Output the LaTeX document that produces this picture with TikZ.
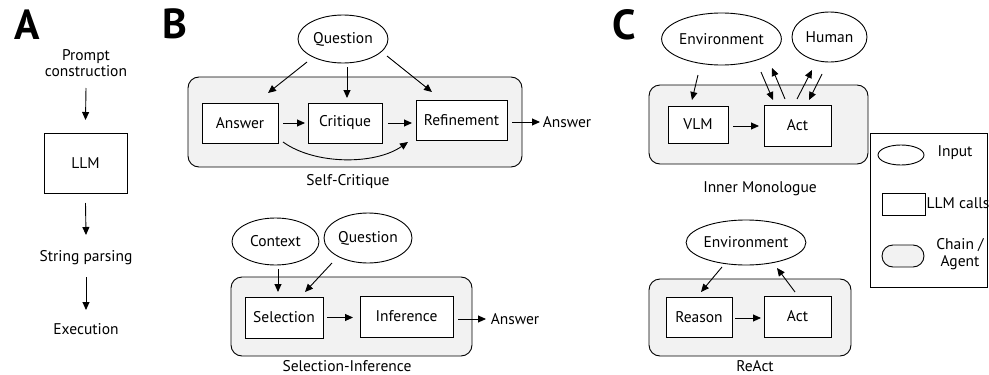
\documentclass[tikz,border=0pt]{standalone}
\usepackage{fontspec}
\setmainfont{PT Sans}
\usetikzlibrary{arrows.meta,shapes.geometric,calc}
\definecolor{chainfill}{HTML}{F2F2F2}
\begin{document}
\begin{tikzpicture}[x=1pt,y=-1pt,
  every node/.style={font=\fontsize{15.5}{16.5}\selectfont},
  lbl/.style={inner sep=0pt,align=center},
  big/.style={inner sep=0pt,font=\fontsize{42}{42}\selectfont\bfseries},
  llmbox/.style={draw,line width=0.9pt,fill=white,rectangle,inner sep=0pt},
  inp/.style={draw,line width=0.9pt,fill=white,ellipse,inner sep=0pt},
  chain/.style={draw,line width=0.9pt,fill=chainfill,rectangle,rounded corners=11pt,inner sep=0pt},
  arr/.style={line width=0.9pt,-{Triangle[length=8pt,width=7pt]}}]
\useasboundingbox (0,0) rectangle (989,375);

% ---------- A ----------
\node[big] (A) at (27.5,25) {A};
\node[lbl] (pc) at (86,63) {Prompt\\construction};
\node[llmbox,minimum width=83pt,minimum height=60pt] (llm) at (85.5,163) {LLM};
\node[lbl] (sp) at (86,258) {String parsing};
\node[lbl] (ex) at (86,329) {Execution};
\draw[arr] ($(pc)+(0,25)$) -- ($(llm)+(0,-43)$);
\draw[arr] ($(llm)+(0,40)$) -- ($(sp)+(0,-23)$);
\draw[arr] ($(sp)+(0,19)$) -- ($(ex)+(0,-19)$);

% ---------- B : Self-Critique ----------
\node[big] (B) at (175,24) {B};
\node[chain,minimum width=334pt,minimum height=90pt] (rr1) at (355,122) {};
\node[inp,minimum width=90pt,minimum height=48pt] (q1) at (343,39) {Question};
\node[llmbox,minimum width=76pt,minimum height=40pt] (ans) at (240,123) {Answer};
\node[llmbox,minimum width=74pt,minimum height=40pt] (crit) at (345,123) {Critique};
\node[llmbox,minimum width=91pt,minimum height=40pt] (ref) at (461.5,120) {Refinement};
\node[lbl] (aout1) at (567,122) {Answer};
\node[lbl] (sc) at (348,182) {Self-Critique};
\draw[arr] ($(ans)+(43,0)$) -- ($(crit)+(-40,0)$);
\draw[arr] ($(crit)+(43,0)$) -- ($(ref)+(-49.5,3)$);
\draw[arr] ($(ref)+(50.5,2)$) -- ($(aout1)+(-27,0)$);
\draw[arr] ($(q1)+(-36,23)$) -- ($(ans)+(28,-30)$);
\draw[arr] ($(q1)+(4,28)$) -- ($(crit)+(2,-25)$);
\draw[arr] ($(q1)+(44,17)$) -- ($(ref)+(-29.5,-28)$);
\draw[arr] ($(ans)+(43,19)$) .. controls ($(ans)+(75,42)$) and ($(ref)+(-86.5,45)$) .. ($(ref)+(-53.5,22)$);

% ---------- B : Selection-Inference ----------
\node[chain,minimum width=241pt,minimum height=79pt] (rr2) at (351.5,316.5) {};
\node[inp,minimum width=87pt,minimum height=47pt] (ctx) at (275.5,241.5) {Context};
\node[inp,minimum width=88pt,minimum height=50pt] (q2) at (368,238) {Question};
\node[llmbox,minimum width=78pt,minimum height=41pt] (sel) at (284,317.5) {Selection};
\node[llmbox,minimum width=93pt,minimum height=41pt] (inf) at (406.5,316.5) {Inference};
\node[lbl] (aout2) at (515,319) {Answer};
\node[lbl] (si) at (347,366.5) {Selection-Inference};
\draw[arr] ($(sel)+(43,0)$) -- ($(inf)+(-53.5,1)$);
\draw[arr] ($(inf)+(51.5,2.5)$) -- ($(aout2)+(-29,0)$);
\draw[arr] ($(ctx)+(2.5,27.5)$) -- ($(sel)+(-6,-25.5)$);
\draw[arr] ($(q2)+(-36,25)$) -- ($(sel)+(21,-25.5)$);

% ---------- C : Inner Monologue ----------
\node[big] (C) at (624.5,25) {C};
\node[chain,minimum width=219pt,minimum height=79pt] (rr3) at (758.5,124.5) {};
\node[inp,minimum width=107pt,minimum height=52pt] (env1) at (721.5,39) {Environment};
\node[inp,minimum width=75pt,minimum height=50pt] (hum) at (829.5,37) {Human};
\node[llmbox,minimum width=60pt,minimum height=37pt] (vlm) at (698,124.5) {VLM};
\node[llmbox,minimum width=67pt,minimum height=41pt] (act1) at (797.5,125.5) {Act};
\node[lbl] (im) at (760,189) {Inner Monologue};
\draw[arr] ($(vlm)+(35,1.5)$) -- ($(act1)+(-38.5,0.5)$);
\draw[arr] ($(env1)+(-23.5,36)$) -- ($(vlm)+(-6,-24.5)$);
\draw[arr] ($(env1)+(39.5,33)$) -- ($(act1)+(-24.5,-25.5)$);
\draw[arr] ($(act1)+(-12.5,-26.5)$) -- ($(env1)+(50.5,29)$);
\draw[arr] ($(act1)+(-0.5,-26.5)$) -- ($(hum)+(-17.5,33)$);
\draw[arr] ($(hum)+(-7.5,37)$) -- ($(act1)+(11.5,-25.5)$);

% ---------- C : ReAct ----------
\node[chain,minimum width=202pt,minimum height=77pt] (rr4) at (750,317.5) {};
\node[inp,minimum width=108pt,minimum height=45pt] (env2) at (746,242.5) {Environment};
\node[llmbox,minimum width=66pt,minimum height=40pt] (rsn) at (699,317) {Reason};
\node[llmbox,minimum width=67pt,minimum height=41pt] (act2) at (797.5,316.5) {Act};
\node[lbl] (ra) at (755,366.5) {ReAct};
\draw[arr] ($(rsn)+(36,1)$) -- ($(act2)+(-36.5,1.5)$);
\draw[arr] ($(env2)+(-24,24.5)$) -- ($(rsn)+(2,-25)$);
\draw[arr] ($(act2)+(-2.5,-24.5)$) -- ($(env2)+(31,25.5)$);

% ---------- Legend ----------
\node[draw,line width=0.9pt,rectangle,minimum width=117pt,minimum height=154pt,inner sep=0pt] (leg) at (929,210) {};
\node[inp,minimum width=46pt,minimum height=20pt] (li) at (901,155) {};
\node[lbl] (lit) at (955,153) {Input};
\node[llmbox,minimum width=43pt,minimum height=22pt] (ll) at (903.5,204) {};
\node[lbl] (llt) at (958,203) {LLM calls};
\node[chain,minimum width=42pt,minimum height=22pt] (lc) at (903,256) {};
\node[lbl] (lct) at (960,254) {Chain /\\Agent};
\end{tikzpicture}
\end{document}
